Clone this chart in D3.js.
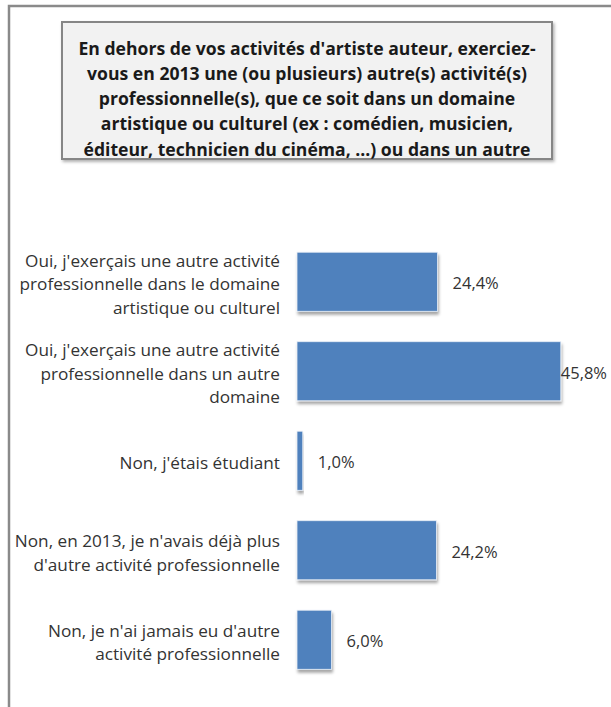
<!DOCTYPE html>
<html>
<head>
<meta charset="utf-8">
<script src="https://cdn.jsdelivr.net/npm/d3@7"></script>
<style>
  html, body { margin: 0; padding: 0; background: #ffffff; }
  svg { display: block; }
</style>
</head>
<body>
<svg id="chart" width="611" height="707"></svg>
<script>
// ---- Data ----
const titleLines = [
  "En dehors de vos activités d'artiste auteur, exerciez-",
  "vous en 2013 une (ou plusieurs) autre(s) activité(s)",
  "professionnelle(s), que ce soit dans un domaine",
  "artistique ou culturel (ex : comédien, musicien,",
  "éditeur, technicien du cinéma, ...) ou dans un autre"
];
const categories = [
  ["Oui, j'exerçais une autre activité", "professionnelle dans le domaine", "artistique ou culturel"],
  ["Oui, j'exerçais une autre activité", "professionnelle dans un autre", "domaine"],
  ["Non, j'étais étudiant"],
  ["Non, en 2013, je n'avais déjà plus", "d'autre activité professionnelle"],
  ["Non, je n'ai jamais eu d'autre", "activité professionnelle"]
];
const values = [24.4, 45.8, 1.0, 24.2, 6.0];
const valueLabels = ["24,4%", "45,8%", "1,0%", "24,2%", "6,0%"];
const xMax = 50;

// ---- Layout ----
const svg = d3.select("#chart");
const FONT = "'Open Sans', sans-serif";

const defs = svg.append("defs");
const sh = defs.append("filter").attr("id", "barShadow")
  .attr("x", "-20%").attr("y", "-20%").attr("width", "140%").attr("height", "150%");
sh.append("feDropShadow").attr("dx", 1).attr("dy", 3).attr("stdDeviation", 1.8)
  .attr("flood-color", "#000").attr("flood-opacity", 0.35);
const sh2 = defs.append("filter").attr("id", "boxShadow")
  .attr("x", "-10%").attr("y", "-10%").attr("width", "120%").attr("height", "130%");
sh2.append("feDropShadow").attr("dx", 1.5).attr("dy", 2).attr("stdDeviation", 1.5)
  .attr("flood-color", "#000").attr("flood-opacity", 0.3);

// Outer chart frame (cut at right and bottom)
svg.append("path")
  .attr("d", "M9,712 L9,6 L620,6")
  .attr("fill", "none").attr("stroke", "#8a8a8a").attr("stroke-width", 2.5);

// Title box
svg.append("rect")
  .attr("x", 62).attr("y", 22).attr("width", 490).attr("height", 137)
  .attr("fill", "#f2f2f2").attr("stroke", "#868686").attr("stroke-width", 2)
  .attr("filter", "url(#boxShadow)");
svg.append("g").selectAll("text").data(titleLines).join("text")
  .attr("x", 307).attr("y", (d, i) => 47.5 + i * 25.3)
  .attr("text-anchor", "middle").attr("dominant-baseline", "central")
  .attr("font-family", FONT).attr("font-weight", "bold").attr("font-size", 17.6)
  .attr("fill", "#1a1a1a").text(d => d);

// Scales
const x = d3.scaleLinear().domain([0, xMax]).range([297, 585]);
const y = d3.scaleBand().domain(d3.range(values.length))
  .range([237, 684.5]).paddingInner(0.34).paddingOuter(0.17);

// Bars
svg.append("g").selectAll("rect").data(values).join("rect")
  .attr("x", x(0)).attr("y", (d, i) => y(i))
  .attr("width", d => x(d) - x(0)).attr("height", y.bandwidth())
  .attr("fill", "#4f81bd").attr("stroke", "#e8eef6").attr("stroke-width", 0.8)
  .attr("filter", "url(#barShadow)");

// Category labels
const catG = svg.append("g");
categories.forEach((lines, i) => {
  const cy = y(i) + y.bandwidth() / 2 + 2;
  const lh = 23.5;
  lines.forEach((ln, j) => {
    catG.append("text")
      .attr("x", 280).attr("y", cy + (j - (lines.length - 1) / 2) * lh)
      .attr("text-anchor", "end").attr("dominant-baseline", "central")
      .attr("font-family", FONT).attr("font-size", 17.2)
      .attr("fill", "#333333").text(ln);
  });
});

// Value labels
const valG = svg.append("g");
values.forEach((v, i) => {
  const t = valG.append("text")
    .attr("y", y(i) + y.bandwidth() / 2 + 1)
    .attr("dominant-baseline", "central")
    .attr("font-family", FONT).attr("font-size", 16.5)
    .attr("fill", "#333333").text(valueLabels[i]);
  const w = t.node().getComputedTextLength();
  t.attr("x", Math.min(x(v) + 15, 607 - w));
});
</script>
</body>
</html>
